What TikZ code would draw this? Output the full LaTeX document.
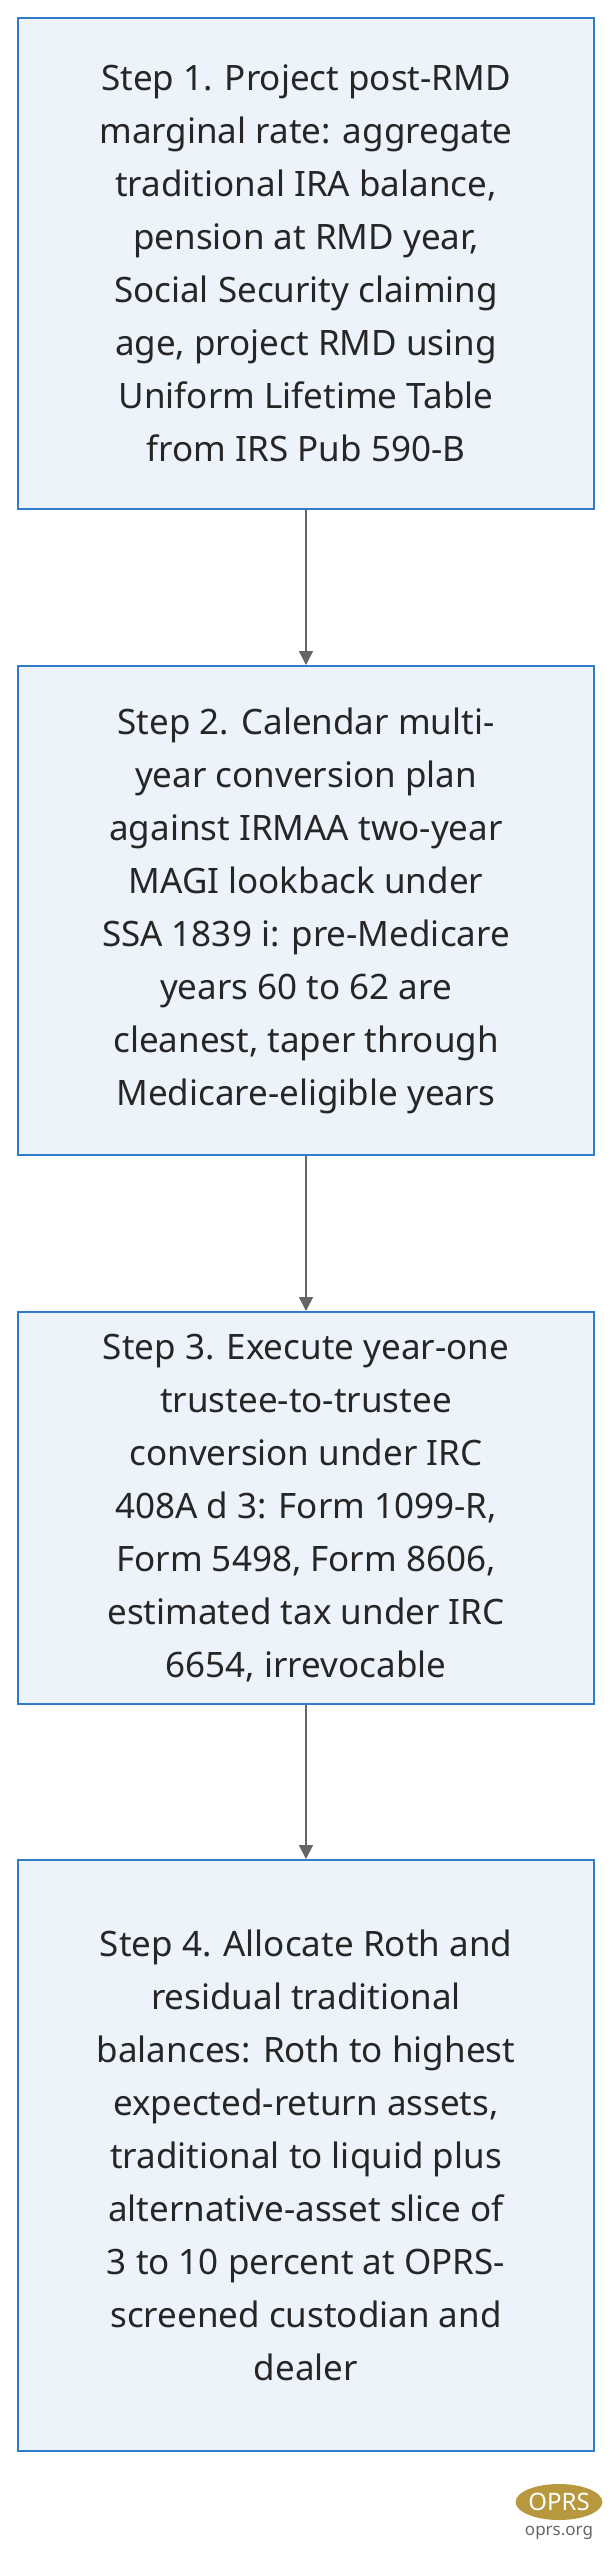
\documentclass[tikz,border=0pt]{standalone}
\usepackage{fontspec}
\setmainfont{Noto Sans}
\usetikzlibrary{positioning,arrows.meta,shapes.geometric}
\definecolor{boxfill}{HTML}{EDF3FB}
\definecolor{boxline}{HTML}{2F7CC9}
\definecolor{arrowgray}{HTML}{666666}
\definecolor{logogold}{HTML}{B8983F}
\begin{document}
\begin{tikzpicture}
  [x=1pt, y=1pt,
   stepbox/.style={draw=boxline, line width=2pt, fill=boxfill, minimum width=576pt,
     align=center, inner sep=0pt, text=black!85,
     font=\fontsize{35}{53}\selectfont},
   flow/.style={draw=arrowgray, line width=1.6pt, -{Triangle[length=14pt,width=14pt]}}]
  \useasboundingbox (0,0) rectangle (612,-2560);
  \node[stepbox, minimum height=491pt] (s1) at (306,-263.5)
    {Step 1. Project post-RMD\\ marginal rate: aggregate\\ traditional IRA balance,\\ pension at RMD year,\\ Social Security claiming\\ age, project RMD using\\ Uniform Lifetime Table\\ from IRS Pub 590-B};
  \node[stepbox, minimum height=489pt] (s2) at (306,-910.5)
    {Step 2. Calendar multi-\\ year conversion plan\\ against IRMAA two-year\\ MAGI lookback under\\ SSA 1839 i: pre-Medicare\\ years 60 to 62 are\\ cleanest, taper through\\ Medicare-eligible years};
  \node[stepbox, minimum height=392pt] (s3) at (306,-1508)
    {Step 3. Execute year-one\\ trustee-to-trustee\\ conversion under IRC\\ 408A d 3: Form 1099-R,\\ Form 5498, Form 8606,\\ estimated tax under IRC\\ 6654, irrevocable};
  \node[stepbox, minimum height=591pt] (s4) at (306,-2155.5)
    {Step 4. Allocate Roth and\\ residual traditional\\ balances: Roth to highest\\ expected-return assets,\\ traditional to liquid plus\\ alternative-asset slice of\\ 3 to 10 percent at OPRS-\\ screened custodian and\\ dealer};
  % connectors
  \draw[flow] (s1) -- (s2);
  \draw[flow] (s2) -- (s3);
  \draw[flow] (s3) -- (s4);
  % logo
  \node[fill=logogold, ellipse, minimum width=64pt, minimum height=36pt, inner sep=0pt,
    text=white, font=\bfseries\fontsize{24}{24}\selectfont] (logo) at (559,-2502) {OPRS};
  \node[below=2pt of logo, text=black!60, font=\bfseries\fontsize{17}{17}\selectfont] (url) {oprs.org};
\end{tikzpicture}
\end{document}
